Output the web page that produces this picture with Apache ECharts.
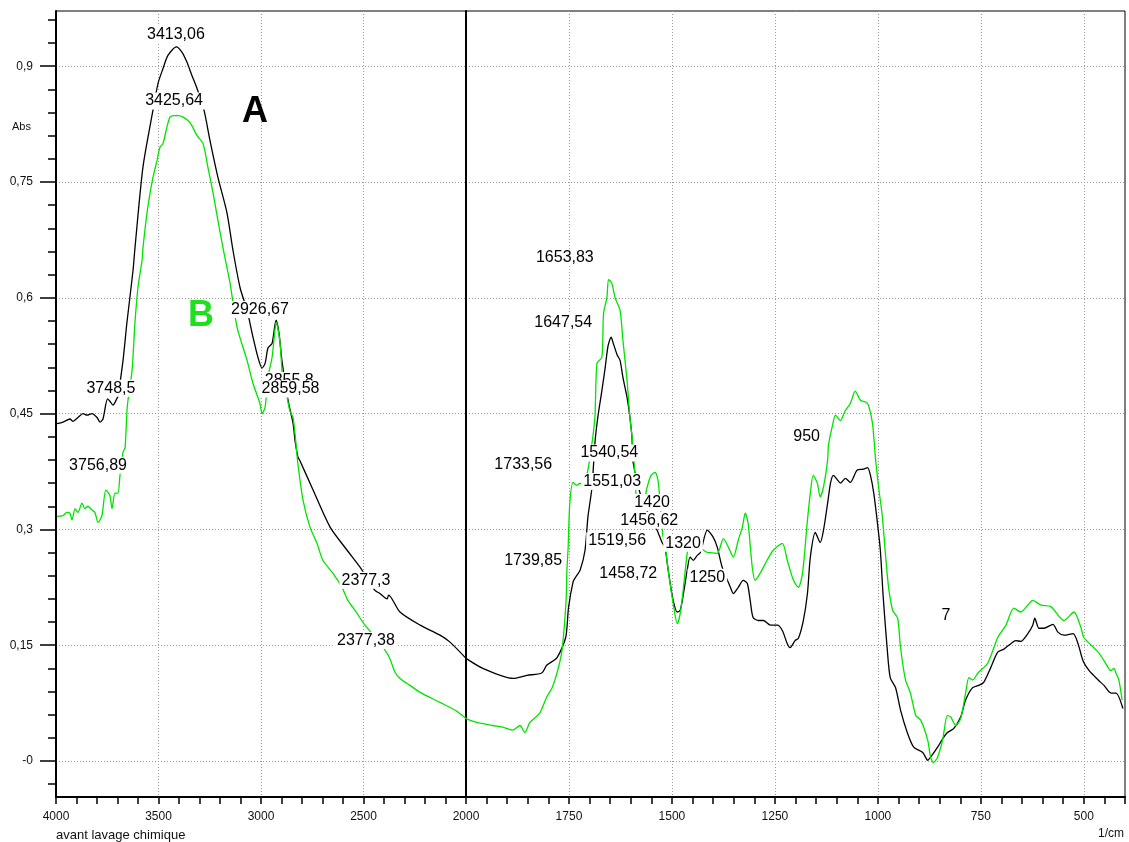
<!DOCTYPE html>
<html>
<head>
<meta charset="utf-8">
<script src="https://cdn.jsdelivr.net/npm/echarts@6/dist/echarts.min.js"></script>
<style>
  html, body { margin: 0; padding: 0; background: #ffffff; }
  #chart { width: 1129px; height: 842px; }
</style>
</head>
<body>
<div id="chart"></div>
<script>
// Spectrum A (black trace), wavenumber in 1/cm and absorbance
const wavenumbersA = [
  3995, 3966, 3932, 3917, 3893, 3868, 3849, 3824, 3800, 3785, 3771, 3748.5, 3737, 3722, 3702, 3698,
  3673, 3654, 3624, 3615, 3576, 3527, 3502, 3478, 3454, 3413.06, 3385, 3361, 3337, 3312, 3278, 3249,
  3210, 3166, 3137, 3102, 3068, 3039, 3015, 2995, 2980, 2966, 2946, 2926.67, 2912, 2898, 2868, 2844,
  2834, 2820, 2810, 2746, 2663, 2580, 2517, 2444, 2420, 2385, 2377.3, 2322, 2224, 2127, 2078, 2000,
  1959, 1886, 1852, 1816, 1804, 1779, 1758, 1751, 1740, 1734, 1723, 1711, 1704, 1694, 1687, 1680,
  1670, 1662, 1655, 1647.54, 1643, 1633, 1626, 1619, 1609, 1602, 1597, 1594, 1570, 1536, 1524, 1517,
  1509, 1497, 1487, 1480, 1472, 1463, 1456, 1448, 1439, 1431, 1414, 1400, 1390, 1378, 1358, 1351,
  1339, 1327, 1317, 1310, 1303, 1290, 1278, 1261, 1244, 1232, 1220, 1213, 1201, 1193, 1181, 1171,
  1164, 1152, 1140, 1132, 1122, 1115, 1108, 1098, 1091, 1079, 1067, 1050, 1035, 1025, 1018, 1010,
  1001, 994, 987, 977, 970, 957, 945, 928, 913, 891, 879, 872, 855, 840, 831, 816,
  799, 787, 770, 755, 743, 726, 709, 694, 682, 665, 653, 636, 624, 619, 609, 597,
  575, 563, 548, 526, 514, 502, 487, 465, 451, 434, 422, 405
];
const absorbanceA = [
  0.437, 0.439, 0.443, 0.440, 0.445, 0.450, 0.448, 0.450, 0.445, 0.439, 0.443, 0.469, 0.466, 0.461, 0.470, 0.472,
  0.519, 0.568, 0.636, 0.664, 0.769, 0.843, 0.878, 0.897, 0.914, 0.925, 0.918, 0.905, 0.888, 0.871, 0.843, 0.804,
  0.756, 0.710, 0.662, 0.613, 0.584, 0.549, 0.523, 0.509, 0.515, 0.535, 0.541, 0.571, 0.554, 0.519, 0.467, 0.438,
  0.415, 0.394, 0.389, 0.351, 0.303, 0.273, 0.251, 0.221, 0.217, 0.210, 0.215, 0.193, 0.176, 0.163, 0.154, 0.133,
  0.120, 0.107, 0.111, 0.114, 0.124, 0.134, 0.160, 0.199, 0.232, 0.238, 0.247, 0.273, 0.316, 0.355, 0.412, 0.445,
  0.480, 0.510, 0.538, 0.549, 0.542, 0.526, 0.519, 0.497, 0.471, 0.445, 0.419, 0.386, 0.335, 0.299, 0.283, 0.277,
  0.247, 0.208, 0.193, 0.195, 0.217, 0.247, 0.264, 0.260, 0.266, 0.270, 0.299, 0.290, 0.277, 0.251, 0.225, 0.217,
  0.225, 0.234, 0.230, 0.208, 0.186, 0.182, 0.182, 0.176, 0.176, 0.169, 0.152, 0.147, 0.156, 0.159, 0.182, 0.217,
  0.264, 0.296, 0.283, 0.299, 0.334, 0.360, 0.370, 0.364, 0.360, 0.366, 0.361, 0.377, 0.378, 0.380, 0.370, 0.347,
  0.308, 0.273, 0.212, 0.143, 0.108, 0.095, 0.066, 0.036, 0.018, 0.011, 0.001, 0.005, 0.018, 0.031, 0.037, 0.042,
  0.057, 0.079, 0.095, 0.098, 0.102, 0.121, 0.141, 0.145, 0.150, 0.156, 0.155, 0.165, 0.176, 0.185, 0.172, 0.172,
  0.177, 0.167, 0.163, 0.165, 0.152, 0.130, 0.117, 0.105, 0.098, 0.088, 0.088, 0.068
];

// Spectrum B (green trace)
const wavenumbersB = [
  3995, 3966, 3946, 3932, 3922, 3907, 3893, 3873, 3859, 3844, 3824, 3810, 3795, 3776, 3756.89, 3737,
  3727, 3712, 3698, 3688, 3673, 3663, 3652, 3629, 3615, 3600, 3580, 3576, 3556, 3541, 3527, 3507,
  3493, 3478, 3459, 3444, 3425.64, 3405, 3380, 3346, 3312, 3283, 3259, 3234, 3210, 3185, 3151, 3117,
  3068, 3039, 3005, 2995, 2980, 2966, 2946, 2932, 2926, 2907, 2893, 2873, 2859.58, 2844, 2834, 2820,
  2795, 2761, 2727, 2698, 2649, 2605, 2576, 2541, 2493, 2429, 2377.38, 2346, 2322, 2273, 2224, 2127,
  2054, 2000,
  1974, 1935, 1911, 1886, 1869, 1857, 1845, 1821, 1804, 1791, 1779, 1767, 1757, 1755, 1752, 1748,
  1740, 1731, 1723, 1716, 1704, 1694, 1687, 1682, 1670, 1666, 1658, 1653.83, 1646, 1638, 1626, 1619,
  1609, 1602, 1594, 1585, 1573, 1561, 1551, 1541, 1534, 1529, 1522, 1517, 1509, 1497, 1487, 1480,
  1472, 1463, 1456, 1412, 1407, 1390, 1375, 1363, 1351, 1339, 1329, 1322, 1315, 1305, 1298, 1286,
  1269, 1254, 1232, 1220, 1205, 1193, 1183, 1171, 1164, 1157, 1147, 1140, 1132, 1122, 1120, 1110,
  1103, 1091, 1079, 1067, 1055, 1042, 1030, 1023, 1013, 1006, 998, 989, 981, 974, 964, 952,
  945, 933, 921, 908, 896, 879, 872, 865, 855, 843, 831, 823, 811, 799, 787, 779,
  770, 757, 733, 709, 689, 670, 653, 636, 624, 604, 580, 548, 524, 507, 500, 465,
  451, 434, 427, 422, 415, 407
];
const absorbanceB = [
  0.317, 0.318, 0.322, 0.321, 0.312, 0.327, 0.322, 0.334, 0.327, 0.330, 0.325, 0.322, 0.309, 0.318, 0.351, 0.344,
  0.327, 0.347, 0.347, 0.370, 0.400, 0.406, 0.460, 0.506, 0.567, 0.614, 0.649, 0.664, 0.710, 0.736, 0.756, 0.778,
  0.795, 0.800, 0.821, 0.834, 0.836, 0.836, 0.834, 0.827, 0.810, 0.800, 0.769, 0.736, 0.700, 0.664, 0.619, 0.562,
  0.519, 0.489, 0.463, 0.450, 0.458, 0.497, 0.523, 0.558, 0.568, 0.541, 0.492, 0.471, 0.454, 0.445, 0.424, 0.385,
  0.338, 0.303, 0.282, 0.260, 0.243, 0.225, 0.208, 0.195, 0.176, 0.156, 0.136, 0.115, 0.107, 0.098, 0.089, 0.076,
  0.066, 0.055,
  0.050, 0.046, 0.044, 0.040, 0.046, 0.037, 0.050, 0.062, 0.083, 0.095, 0.114, 0.143, 0.208, 0.247, 0.277, 0.334,
  0.361, 0.357, 0.360, 0.356, 0.377, 0.412, 0.445, 0.515, 0.523, 0.580, 0.600, 0.624, 0.619, 0.600, 0.584, 0.545,
  0.493, 0.445, 0.406, 0.334, 0.325, 0.353, 0.370, 0.374, 0.364, 0.337, 0.292, 0.282, 0.247, 0.204, 0.178, 0.191,
  0.225, 0.269, 0.286, 0.270, 0.270, 0.269, 0.288, 0.277, 0.264, 0.286, 0.303, 0.321, 0.308, 0.251, 0.234, 0.243,
  0.260, 0.273, 0.282, 0.260, 0.234, 0.225, 0.243, 0.312, 0.347, 0.370, 0.360, 0.342, 0.355, 0.390, 0.409, 0.435,
  0.448, 0.441, 0.454, 0.463, 0.479, 0.467, 0.465, 0.461, 0.437, 0.393, 0.354, 0.316, 0.264, 0.225, 0.195, 0.185,
  0.147, 0.105, 0.088, 0.059, 0.053, 0.027, 0.005, -0.002, 0.005, 0.027, 0.059, 0.057, 0.046, 0.055, 0.088, 0.108,
  0.105, 0.114, 0.127, 0.160, 0.176, 0.198, 0.193, 0.202, 0.208, 0.202, 0.200, 0.182, 0.193, 0.173, 0.160, 0.141,
  0.130, 0.117, 0.120, 0.114, 0.105, 0.079
];

// Axis tick values
const xTicksHigh = [4000, 3500, 3000, 2500, 2000];
const xTicksLow = [1750, 1500, 1250, 1000, 750, 500];
const yTicks = [0, 0.15, 0.3, 0.45, 0.6, 0.75, 0.9];
const yMinorTicks = [-0.03, 0.03, 0.06, 0.09, 0.12, 0.18, 0.21, 0.24, 0.27, 0.33, 0.36, 0.39, 0.42,
  0.48, 0.51, 0.54, 0.57, 0.63, 0.66, 0.69, 0.72, 0.78, 0.81, 0.84, 0.87, 0.93, 0.96];

// Peak annotations: text and the point (1/cm, Abs) where the text box is centred
const peakTexts = ['3413,06', '3425,64', '3748,5', '3756,89', '2926,67', '2855,8', '2859,58', '2377,3', '2377,38',
  '1653,83', '1647,54', '1733,56', '1739,85', '1540,54', '1551,03', '1420', '1456,62', '1519,56', '1320',
  '1458,72', '1250', '950', '7'];
const peakTextAt = [[3415, 0.941], [3424, 0.855], [3732, 0.483], [3795, 0.383], [3005, 0.585], [2862, 0.493],
  [2856, 0.482], [2488, 0.234], [2488, 0.156], [1760, 0.652], [1764, 0.568], [1861, 0.384], [1837, 0.260],
  [1652, 0.399], [1645, 0.362], [1548, 0.335], [1555, 0.312], [1633, 0.285], [1473, 0.282], [1606, 0.243],
  [1414, 0.238], [1173, 0.420], [835, 0.188]];

const Y_MIN = -0.0466, Y_MAX = 0.9715;
const BLACK = '#000000', GREEN = '#00e400';
const FONT = 'Liberation Sans';

function pairs(wn, ab, high) {
  const out = [];
  for (let i = 0; i < wn.length; i++) {
    if (high ? wn[i] >= 2000 : wn[i] <= 2000) out.push([wn[i], ab[i]]);
  }
  return out;
}

function commaNumber(v) {
  return v === 0 ? '-0' : String(v).replace('.', ',');
}

function traceSeries(wn, ab, high, color, name) {
  return {
    name: name,
    type: 'line',
    xAxisIndex: high ? 0 : 1,
    yAxisIndex: high ? 0 : 2,
    data: pairs(wn, ab, high),
    showSymbol: false,
    smooth: 0.25,
    lineStyle: { color: color, width: 1.3 },
    itemStyle: { color: color },
    z: 3,
    silent: true
  };
}

function labelSeries(high) {
  const data = [];
  for (let i = 0; i < peakTexts.length; i++) {
    const p = peakTextAt[i];
    if (high ? p[0] >= 2000 : p[0] < 2000) data.push({ name: peakTexts[i], value: p });
  }
  if (high) {
    data.push({ name: 'A', value: [3029, 0.840],
      label: { fontSize: 36, fontWeight: 'bold', color: BLACK, backgroundColor: 'transparent' } });
    data.push({ name: 'B', value: [3293, 0.576],
      label: { fontSize: 36, fontWeight: 'bold', color: '#1fe01f', backgroundColor: 'transparent' } });
  }
  return {
    type: 'scatter',
    xAxisIndex: high ? 0 : 1,
    yAxisIndex: high ? 0 : 2,
    symbol: 'rect',
    symbolSize: 1,
    itemStyle: { color: 'rgba(255,255,255,0)', opacity: 1 },
    data: data,
    z: 10,
    silent: true,
    label: {
      show: true,
      position: 'inside',
      formatter: '{b}',
      fontFamily: FONT,
      fontSize: 16,
      color: '#000000',
      opacity: 1,
      backgroundColor: '#ffffff',
      padding: [1, 2, 0, 2]
    },
    labelLayout: { hideOverlap: false }
  };
}

const dotted = { show: true, lineStyle: { color: '#9a9a9a', width: 1, type: [1, 2] } };

const option = {
  animation: false,
  backgroundColor: '#ffffff',
  grid: [
    { left: 56, top: 11, width: 410, height: 786, show: true, borderColor: BLACK, borderWidth: 1, backgroundColor: 'transparent' },
    { left: 466, top: 11, width: 659, height: 786, show: true, borderColor: BLACK, borderWidth: 1, backgroundColor: 'transparent' }
  ],
  xAxis: [
    {
      type: 'value', gridIndex: 0, position: 'bottom', inverse: true, min: 2000, max: 4000, interval: 500,
      axisLine: { show: true, onZero: false, lineStyle: { color: BLACK, width: 2 } },
      axisTick: { show: true, inside: false, length: 7, lineStyle: { color: BLACK, width: 1.5 } },
      minorTick: { show: true, splitNumber: 5, length: 7, lineStyle: { color: BLACK, width: 1.5 } },
      axisLabel: {
        margin: 14, fontFamily: FONT, fontSize: 12, color: '#111111',
        formatter: v => (xTicksHigh.indexOf(v) >= 0 ? String(v) : '')
      },
      splitLine: dotted
    },
    {
      type: 'value', gridIndex: 1, position: 'bottom', inverse: true, min: 400, max: 2000, interval: 50,
      axisLine: { show: true, onZero: false, lineStyle: { color: BLACK, width: 2 } },
      axisTick: { show: true, inside: false, length: 7, lineStyle: { color: BLACK, width: 1.5 } },
      axisLabel: {
        margin: 14, fontFamily: FONT, fontSize: 12, color: '#111111',
        formatter: v => (xTicksLow.indexOf(v) >= 0 ? String(v) : '')
      },
      splitLine: { show: false }
    },
    {
      type: 'value', gridIndex: 1, position: 'bottom', inverse: true, min: 400, max: 2000,
      axisLine: { show: false },
      axisTick: { show: false, customValues: xTicksLow },
      axisLabel: { show: false, customValues: xTicksLow },
      splitLine: dotted
    }
  ],
  yAxis: [
    {
      type: 'value', gridIndex: 0, position: 'left', min: Y_MIN, max: Y_MAX,
      axisLine: { show: true, onZero: false, lineStyle: { color: BLACK, width: 2 } },
      axisTick: { show: true, inside: false, length: 16, customValues: yTicks, lineStyle: { color: BLACK, width: 1.5 } },
      axisLabel: {
        margin: 23, fontFamily: FONT, fontSize: 12, color: '#111111',
        customValues: yTicks, formatter: commaNumber
      },
      splitLine: dotted
    },
    {
      type: 'value', gridIndex: 0, position: 'left', offset: 0, min: Y_MIN, max: Y_MAX,
      axisLine: { show: false },
      axisTick: { show: true, inside: false, length: 8, customValues: yMinorTicks, lineStyle: { color: BLACK, width: 1.5 } },
      axisLabel: { show: false },
      splitLine: { show: false }
    },
    {
      type: 'value', gridIndex: 1, position: 'left', min: Y_MIN, max: Y_MAX,
      axisLine: { show: true, onZero: false, lineStyle: { color: BLACK, width: 2 } },
      axisTick: { show: false, customValues: yTicks },
      axisLabel: { show: false },
      splitLine: dotted
    }
  ],
  graphic: [
    { type: 'text', left: 12, top: 121, style: { text: 'Abs', fontFamily: FONT, fontSize: 11, fill: '#111111' } },
    { type: 'text', left: 56, top: 829, style: { text: 'avant lavage chimique', fontFamily: FONT, fontSize: 13, fill: '#111111' } },
    { type: 'text', right: 5, top: 828, style: { text: '1/cm', fontFamily: FONT, fontSize: 12, fill: '#111111' } }
  ],
  series: [
    traceSeries(wavenumbersA, absorbanceA, true, BLACK, 'A'),
    traceSeries(wavenumbersA, absorbanceA, false, BLACK, 'A'),
    traceSeries(wavenumbersB, absorbanceB, true, GREEN, 'B'),
    traceSeries(wavenumbersB, absorbanceB, false, GREEN, 'B'),
    labelSeries(true),
    labelSeries(false)
  ]
};

const chart = echarts.init(document.getElementById('chart'), null, { renderer: 'canvas' });
chart.setOption(option);
</script>
</body>
</html>
